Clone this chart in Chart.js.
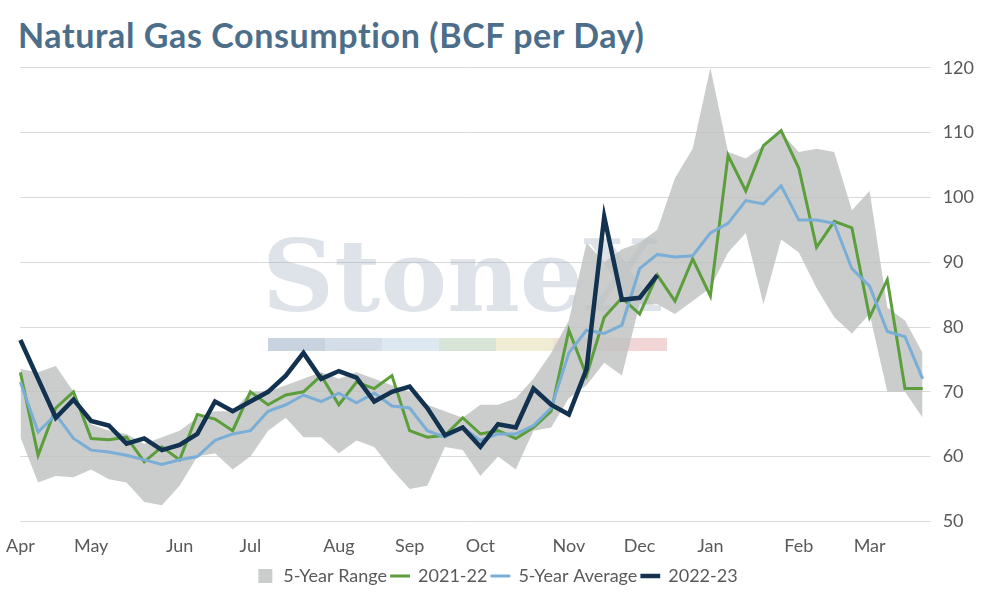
<!DOCTYPE html>
<html>
<head>
<meta charset="utf-8">
<script src="https://cdn.jsdelivr.net/npm/chart.js@4"></script>
<style>
  body { margin: 0; background: #fff; font-family: Lato, sans-serif; }
  h1 { margin: 0; position: absolute; left: 18px; top: 14px; font-size: 34px; letter-spacing: 0.6px; color: #4c6e8a; font-weight: 700; }
  #wrap { position: absolute; left: 0; top: 45px; width: 994px; height: 550px; }
</style>
</head>
<body>
<h1>Natural Gas Consumption (BCF per Day)</h1>
<div id="wrap"><canvas id="c"></canvas></div>
<script>
// Weekly points, Apr -> Mar; month label index positions
const monthTicks = { 0: 'Apr', 4: 'May', 9: 'Jun', 13: 'Jul', 18: 'Aug', 22: 'Sep', 26: 'Oct', 31: 'Nov', 35: 'Dec', 39: 'Jan', 44: 'Feb', 48: 'Mar' };
const weeks = Array.from({ length: 52 }, (_, i) => monthTicks[i] || '');

const rangeHigh = [73.5,73,74,70,65,64,63.5,62,63,64,66,67,67,70,70,71,72,73,72,73,72,71,70,68,67,66,68,68,69,72,76,81,93,90,92,93,95,103,107.5,120,107,106,108,110,107,107.5,107,98,101,83,81,76];
const rangeLow  = [63,56,57,56.8,58,56.5,56,53,52.5,55.5,60,60.5,58,60,64,66,63,63,60.5,62.5,61.5,58,55,55.5,61.5,61,57,60,58,64,64.5,69,71,74.5,72.5,83.5,83.5,82,84,86,91.5,94.5,83.5,93.5,91.5,86,81.5,79,82,70,70,66];
const y2021 = [73,60.2,67.5,70,62.8,62.6,63,59.2,61.5,59.5,66.5,65.8,64,70,68,69.5,70,72.5,68,71.5,70.5,72.5,64,63,63.3,66,63.5,64,62.8,64.5,67,79.5,72.5,81.5,84.5,82,88,84,90.5,84.8,106.5,101,108,110.3,104.5,92.3,96.3,95.3,81.5,87.3,70.5,70.5];
const avg5y = [71.5,63.8,66.5,62.8,61,60.7,60.2,59.5,58.8,59.5,60,62.5,63.5,64,67,68,69.5,68.5,69.8,68.3,69.8,67.8,67.5,64,63,64.5,62.5,63.5,63.5,64.8,67.5,76,79.5,79,80.3,89,91.2,90.8,91,94.5,96,99.5,99,101.8,96.5,96.5,96,89,86.3,79.3,78.5,72];
const y2022 = [78,72,66,68.8,65.5,64.8,62,62.8,61,61.8,63.5,68.5,67,68.5,70,72.5,76,72,73.2,72.2,68.5,70,70.8,67.5,63.3,64.5,61.5,65,64.5,70.5,68,66.5,73.5,97,84.2,84.5,88];
const yTicks = [50, 60, 70, 80, 90, 100, 110, 120];

const watermark = {
  id: 'watermark',
  beforeDatasetsDraw(chart) {
    const { ctx, chartArea: a } = chart;
    ctx.save();
    ctx.font = '700 100px "DejaVu Serif", serif';
    ctx.fillStyle = 'rgba(160,175,195,0.35)';
    ctx.textAlign = 'center';
    ctx.fillText('StoneX', (a.left + a.right) / 2 - 10, 240);
    const cols = ['#c9d3e0', '#d5dde8', '#dde8f0', '#d8e4d8', '#f1ecd4', '#f1e2d4', '#f2d6d6'];
    cols.forEach((c, i) => { ctx.fillStyle = c; ctx.fillRect(268 + i * 57, 293, 57, 13); });
    ctx.restore();
  }
};

new Chart(document.getElementById('c'), {
  type: 'line',
  data: {
    labels: weeks,
    datasets: [
      { label: '5-Year Range', data: rangeHigh, borderWidth: 0, pointRadius: 0, backgroundColor: 'rgba(190,192,192,0.8)', fill: '+1', pointStyle: 'rect', order: 5 },
      { label: 'low', data: rangeLow, borderWidth: 0, pointRadius: 0, fill: false, order: 5 },
      { label: '2021-22', data: y2021, borderColor: '#5c9e3c', backgroundColor: '#5c9e3c', borderWidth: 3, pointRadius: 0, tension: 0, pointStyle: 'line', order: 3 },
      { label: '5-Year Average', data: avg5y, borderColor: '#7aaed6', backgroundColor: '#7aaed6', borderWidth: 3, pointRadius: 0, tension: 0, pointStyle: 'line', order: 2 },
      { label: '2022-23', data: y2022, borderColor: '#12324f', backgroundColor: '#12324f', borderWidth: 4.5, pointRadius: 0, tension: 0, pointStyle: 'line', order: 1 }
    ]
  },
  plugins: [watermark],
  options: {
    responsive: true,
    maintainAspectRatio: false,
    animation: false,
    layout: { padding: { left: 8, right: 8, top: 4, bottom: 0 } },
    plugins: {
      legend: {
        position: 'bottom',
        labels: {
          usePointStyle: true,
          boxWidth: 50, boxHeight: 14,
          padding: 4,
          font: { family: 'Lato', size: 18 }, color: '#595959',
          filter: item => item.text !== 'low',
          sort: (a, b) => a.datasetIndex - b.datasetIndex
        }
      },
      tooltip: { enabled: false }
    },
    scales: {
      x: {
        grid: { display: false },
        border: { display: false },
        ticks: { autoSkip: false, maxRotation: 0, font: { family: 'Lato', size: 18 }, color: '#595959', padding: 6 }
      },
      y: {
        position: 'right',
        min: 50, max: 120,
        afterBuildTicks: axis => { axis.ticks = yTicks.map(v => ({ value: v })); },
        grid: { color: '#d9d9d9' },
        border: { display: false },
        ticks: { font: { family: 'Lato', size: 18 }, color: '#595959', padding: 12 }
      }
    }
  }
});
</script>
</body>
</html>
